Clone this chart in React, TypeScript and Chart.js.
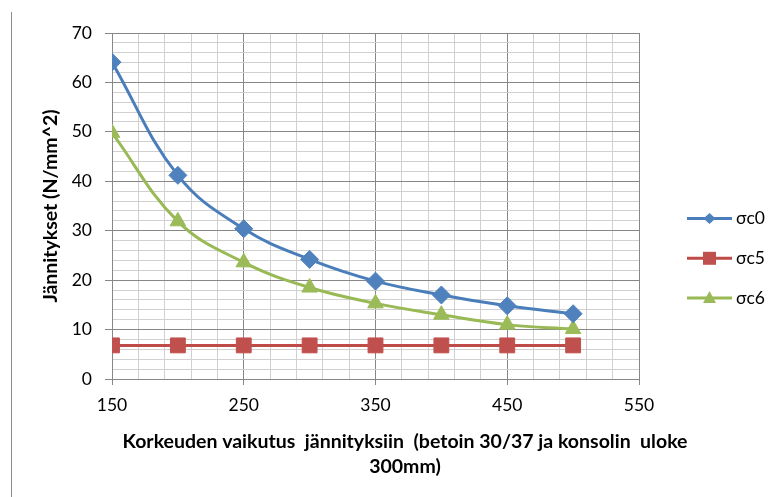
import React, { useEffect, useRef } from 'react';
import { Chart, registerables } from 'chart.js';

Chart.register(...registerables);

const heights = [150, 200, 250, 300, 350, 400, 450, 500];
const sigmaC0 = [64.1, 41.2, 30.4, 24.2, 19.8, 17.0, 14.8, 13.2];
const sigmaC5 = [6.8, 6.8, 6.8, 6.8, 6.8, 6.8, 6.8, 6.8];
const sigmaC6 = [49.8, 31.9, 23.6, 18.5, 15.3, 13.0, 11.0, 10.1];
const seriesLabels = ['σc0', 'σc5', 'σc6'];
const yTitle = 'Jännitykset (N/mm^2)';
const xTitleLines = ['Korkeuden vaikutus  jännityksiin  (betoin 30/37 ja konsolin  uloke', '300mm)'];
const xMin = 150, xMax = 550, xMajor = 100, xMinor = 20;
const yMin = 0, yMax = 70, yMajor = 10, yMinor = 2;

const FONT = 'Lato';
const MAJOR = '#878787';
const MINOR = '#d0d0d0';

function isMajor(v: number, base: number, step: number) {
  const r = (v - base) / step;
  return Math.abs(r - Math.round(r)) < 1e-6;
}

function drawMarker(ctx: CanvasRenderingContext2D, style: string, x: number, y: number, color: string) {
  ctx.fillStyle = color;
  ctx.beginPath();
  if (style === 'rectRot') {
    ctx.moveTo(x - 6, y); ctx.lineTo(x, y - 5.5); ctx.lineTo(x + 6, y); ctx.lineTo(x, y + 5.5);
  } else if (style === 'rect') {
    ctx.rect(x - 6.5, y - 6.5, 13, 13);
  } else {
    ctx.moveTo(x, y - 7); ctx.lineTo(x + 6.5, y + 5); ctx.lineTo(x - 6.5, y + 5);
  }
  ctx.closePath();
  ctx.fill();
}

const extrasPlugin = {
  id: 'extras',
  afterDraw(chart: any) {
    const ctx: CanvasRenderingContext2D = chart.ctx;
    ctx.save();
    ctx.strokeStyle = '#8c8c8c';
    ctx.lineWidth = 1;
    ctx.beginPath();
    ctx.moveTo(11.5, 12);
    ctx.lineTo(11.5, 497);
    ctx.stroke();

    ctx.fillStyle = '#000';
    ctx.font = `bold 19.5px ${FONT}`;
    ctx.textAlign = 'center';
    ctx.textBaseline = 'middle';
    xTitleLines.forEach((t, i) => ctx.fillText(t, 405, 441.5 + i * 25));

    chart.data.datasets.forEach((ds: any, i: number) => {
      const y = 218.5 + i * 39.8;
      ctx.strokeStyle = ds.borderColor;
      ctx.lineWidth = 3;
      ctx.beginPath();
      ctx.moveTo(687, y);
      ctx.lineTo(732, y);
      ctx.stroke();
      drawMarker(ctx, ds.pointStyle, 709.5, y, ds.pointBackgroundColor);
      ctx.fillStyle = '#000';
      ctx.font = `17.5px ${FONT}`;
      ctx.textAlign = 'left';
      ctx.textBaseline = 'middle';
      ctx.fillText(ds.label, 736, y);
    });
    ctx.restore();
  },
};

export default function App() {
  const ref = useRef<HTMLCanvasElement>(null);
  useEffect(() => {
    if (!ref.current) return;
    Chart.defaults.font.family = FONT;
    const toPts = (arr: number[]) => heights.map((h, i) => ({ x: h, y: arr[i] }));
    const chart = new Chart(ref.current, {
      type: 'line',
      data: {
        datasets: [
          {
            label: seriesLabels[0],
            data: toPts(sigmaC0),
            borderColor: '#4A7EBB',
            backgroundColor: '#4F81BD',
            pointBackgroundColor: '#4F81BD',
            pointBorderColor: '#4F81BD',
            pointStyle: 'rectRot',
            pointRadius: 9,
            pointBorderWidth: 1,
            borderWidth: 3,
            tension: 0.4,
          },
          {
            label: seriesLabels[1],
            data: toPts(sigmaC5),
            borderColor: '#BE4B48',
            backgroundColor: '#C0504D',
            pointBackgroundColor: '#C0504D',
            pointBorderColor: '#C0504D',
            pointStyle: 'rect',
            pointRadius: 10.5,
            pointBorderWidth: 1,
            borderWidth: 3,
            tension: 0,
          },
          {
            label: seriesLabels[2],
            data: toPts(sigmaC6),
            borderColor: '#98B954',
            backgroundColor: '#9BBB59',
            pointBackgroundColor: '#9BBB59',
            pointBorderColor: '#9BBB59',
            pointStyle: 'triangle',
            pointRadius: 9,
            pointBorderWidth: 1,
            borderWidth: 3,
            tension: 0.4,
          },
        ] as any,
      },
      options: {
        responsive: false,
        animation: false,
        layout: { padding: { left: 29, top: 33, right: 129, bottom: 0 } },
        plugins: { legend: { display: false }, tooltip: { enabled: false }, title: { display: false } },
        scales: {
          x: {
            type: 'linear',
            min: xMin,
            max: xMax,
            afterFit: (s: any) => { s.height = 118; },
            border: { color: MAJOR, width: 1 },
            grid: {
              color: (c: any) => (c.tick && isMajor(c.tick.value, xMin, xMajor) ? MAJOR : MINOR),
              tickColor: (c: any) => (c.tick && isMajor(c.tick.value, xMin, xMajor) ? MAJOR : 'rgba(0,0,0,0)'),
              tickLength: 6,
              lineWidth: 1,
            },
            ticks: {
              stepSize: xMinor,
              autoSkip: false,
              maxRotation: 0,
              padding: 10,
              color: '#000',
              font: { size: 17.5, family: FONT },
              callback: (v: any) => (isMajor(Number(v), xMin, xMajor) ? String(v) : ''),
            },
          },
          y: {
            type: 'linear',
            min: yMin,
            max: yMax,
            afterFit: (s: any) => { s.width = 83; },
            border: { color: MAJOR, width: 1 },
            grid: {
              color: (c: any) => (c.tick && isMajor(c.tick.value, yMin, yMajor) ? MAJOR : MINOR),
              tickColor: (c: any) => (c.tick && isMajor(c.tick.value, yMin, yMajor) ? MAJOR : 'rgba(0,0,0,0)'),
              tickLength: 7,
              lineWidth: 1,
            },
            ticks: {
              stepSize: yMinor,
              autoSkip: false,
              padding: 13,
              color: '#000',
              font: { size: 17.5, family: FONT },
              callback: (v: any) => (isMajor(Number(v), yMin, yMajor) ? String(v) : ''),
            },
            title: {
              display: true,
              text: yTitle,
              color: '#000',
              font: { size: 19.5, weight: 'bold', family: FONT },
              padding: { top: 10, bottom: 0 },
            },
          },
        },
      } as any,
      plugins: [extrasPlugin],
    });
    return () => chart.destroy();
  }, []);
  return (
    <div style={{ position: 'fixed', left: 0, top: 0, width: 768, height: 497, background: '#fff' }}>
      <canvas ref={ref} width={768} height={497} style={{ display: 'block' }} />
    </div>
  );
}
